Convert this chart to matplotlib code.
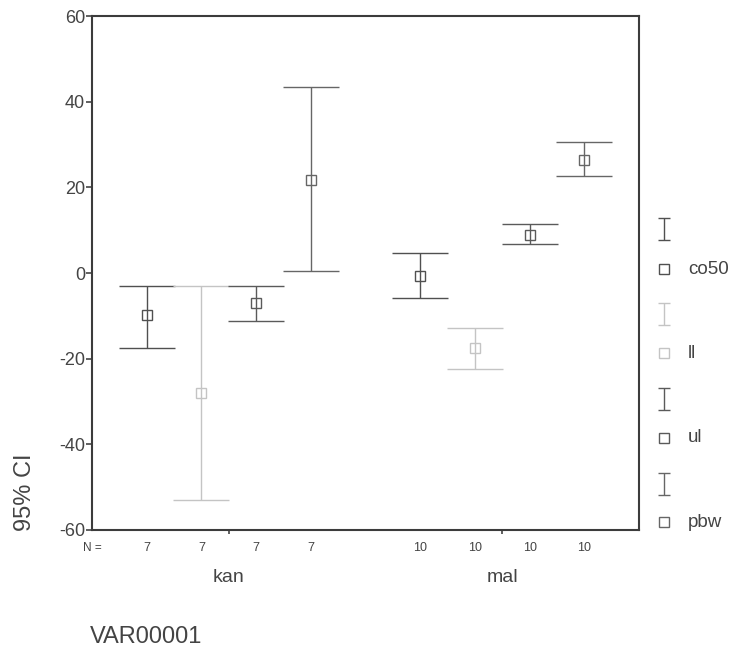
import numpy as np
import matplotlib.pyplot as plt

plt.rcParams['font.family'] = ['Liberation Sans', 'DejaVu Sans']
plt.rcParams['axes.unicode_minus'] = False

# Data (95% CI per group / series)
groups = ['kan', 'mal']
series = ['co50', 'll', 'ul', 'pbw']
n_counts = [7, 7, 7, 7, 10, 10, 10, 10]

mean_kan = [-9.8, -28.0, -7.0, 21.8]
mean_mal = [-0.7, -17.5, 8.9, 26.4]
low_kan = [-17.5, -53.0, -11.2, 0.5]
low_mal = [-5.8, -22.4, 6.7, 22.7]
high_kan = [-3.0, -3.0, -3.0, 43.5]
high_mal = [4.7, -12.9, 11.4, 30.6]

colors = ['#505050', '#c4c4c4', '#5a5a5a', '#666666']
text_col = '#444444'

fig = plt.figure(figsize=(7.33, 6.49), dpi=100)
ax = fig.add_axes([0.1255, 0.1834, 0.7463, 0.7919])

means = [mean_kan, mean_mal]
lows = [low_kan, low_mal]
highs = [high_kan, high_mal]

positions = []
for g in range(len(groups)):
    for s in range(len(series)):
        x = 1 + g * 5 + s
        positions.append(x)
        m = means[g][s]
        err = [[m - lows[g][s]], [highs[g][s] - m]]
        ax.errorbar([x], [m], yerr=err, fmt='s', color=colors[s],
                    mfc='none', mec=colors[s], ms=7.5, mew=1.0,
                    elinewidth=1.0, capsize=20, capthick=1.0)

ax.set_xlim(0, 10)
ax.set_ylim(-60, 60)
ax.set_yticks(np.arange(-60, 61, 20))
ax.set_xticks([2.5, 7.5])
ax.set_xticklabels(['', ''])
ax.tick_params(axis='y', direction='out', length=4, width=1.2, color=text_col,
               labelsize=13, labelcolor=text_col, pad=1)
ax.tick_params(axis='x', direction='out', length=3, width=1.2, color=text_col)
for sp in ax.spines.values():
    sp.set_color('#3c3c3c')
    sp.set_linewidth(1.5)

# N row and group labels under the axis
trans = ax.get_xaxis_transform()
ax.text(0.0, -0.035, 'N =', transform=trans, ha='center', va='center',
        fontsize=8.5, color=text_col)
for x, n in zip(positions, n_counts):
    ax.text(x, -0.035, str(n), transform=trans, ha='center', va='center',
            fontsize=9, color=text_col)
for g, name in enumerate(groups):
    ax.text(2.5 + g * 5, -0.092, name, transform=trans, ha='center',
            va='center', fontsize=14, color=text_col)

fig.text(0.034, 1 - 492 / 649, '95% CI', rotation=90, ha='center',
         va='center', fontsize=17, color=text_col)
fig.text(90 / 733, 1 - 637 / 649, 'VAR00001', ha='left', va='center',
         fontsize=17, color=text_col)

# Legend: errorbar glyph above a square + label for each series
lax = fig.add_axes([656 / 733, 0.1834, 77 / 733, 0.7919])
lax.set_xlim(-0.12, 1)
lax.set_ylim(530, 16)
lax.axis('off')
for i, (name, c) in enumerate(zip(series, colors)):
    yb = 229 + i * 85
    ys = 269 + i * 84.5
    lax.errorbar([0.0], [yb], yerr=[[11], [11]], fmt='none', ecolor=c,
                 elinewidth=1.0, capsize=4, capthick=1.0)
    lax.plot([0.0], [ys], marker='s', ms=6.5, mfc='none', mec=c, mew=1.0,
             linestyle='none')
    lax.text(0.345, ys, name, ha='left', va='center', fontsize=13.5,
             color=text_col)

fig.savefig('out.png', dpi=100)
